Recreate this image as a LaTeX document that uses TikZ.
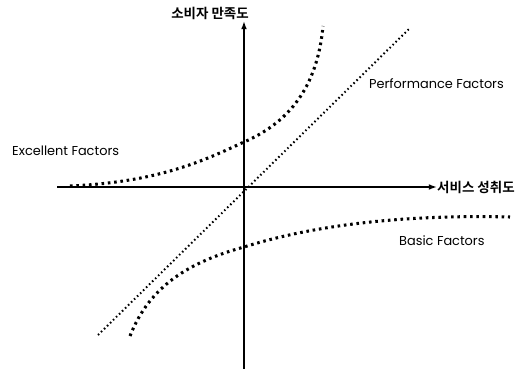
\documentclass[tikz,border=0pt]{standalone}
\usepackage{fontspec}
\setmainfont{Poppins}
\newfontfamily\krfont{Noto Sans CJK KR Bold}
\usepackage{tikz}
\usetikzlibrary{arrows.meta}

\tikzset{
  axisline/.style={line width=1.6pt,-{Latex[length=7pt,width=5pt]}},
  factorcurve/.style={line width=2.6pt,dash pattern=on 2.2pt off 3.2pt},
  perfline/.style={line width=1.7pt,dash pattern=on 1.3pt off 2.3pt},
  axislabel/.style={font=\krfont\fontsize{11.5}{13}\selectfont,inner sep=0pt},
  factorlabel/.style={font=\fontsize{11}{13}\selectfont,inner sep=0pt}
}

\begin{document}
\begin{tikzpicture}[x=0.03cm,y=-0.03cm]
  \useasboundingbox (0,0) rectangle (529,369);
  % axes
  \coordinate (O) at (244,187);
  \coordinate (ybot) at (244,369);
  \coordinate (xleft) at (57,187);
  \node[axislabel,anchor=east] (ylab) at (249,13) {소비자 만족도};
  \node[axislabel,anchor=west] (xlab) at (437,187) {서비스 성취도};
  \draw[axisline] (ybot) -- (244,21);
  \draw[axisline] (xleft) -- (xlab.west);
  % performance factors
  \coordinate (P1) at (98,335);
  \coordinate (P2) at (410,28);
  \draw[perfline] (P1) -- (P2);
  % excellent factors
  \coordinate (E1) at (70,186);
  \coordinate (E2) at (244,142);
  \coordinate (E3) at (323,26);
  \draw[factorcurve] (E1) .. controls (160,182) and (205,160) .. (E2)
    .. controls (295,120) and (318,80) .. (E3);
  % basic factors
  \coordinate (B1) at (130,336);
  \coordinate (B2) at (244,247);
  \coordinate (B3) at (510,217);
  \draw[factorcurve] (B1) .. controls (150,285) and (190,262) .. (B2)
    .. controls (330,220) and (430,215) .. (B3);
  % labels
  \node[factorlabel,anchor=west] (exc) at (12,151) {Excellent Factors};
  \node[factorlabel,anchor=west] (perf) at (369,84) {Performance Factors};
  \node[factorlabel,anchor=west] (basic) at (399,241) {Basic Factors};
\end{tikzpicture}
\end{document}
